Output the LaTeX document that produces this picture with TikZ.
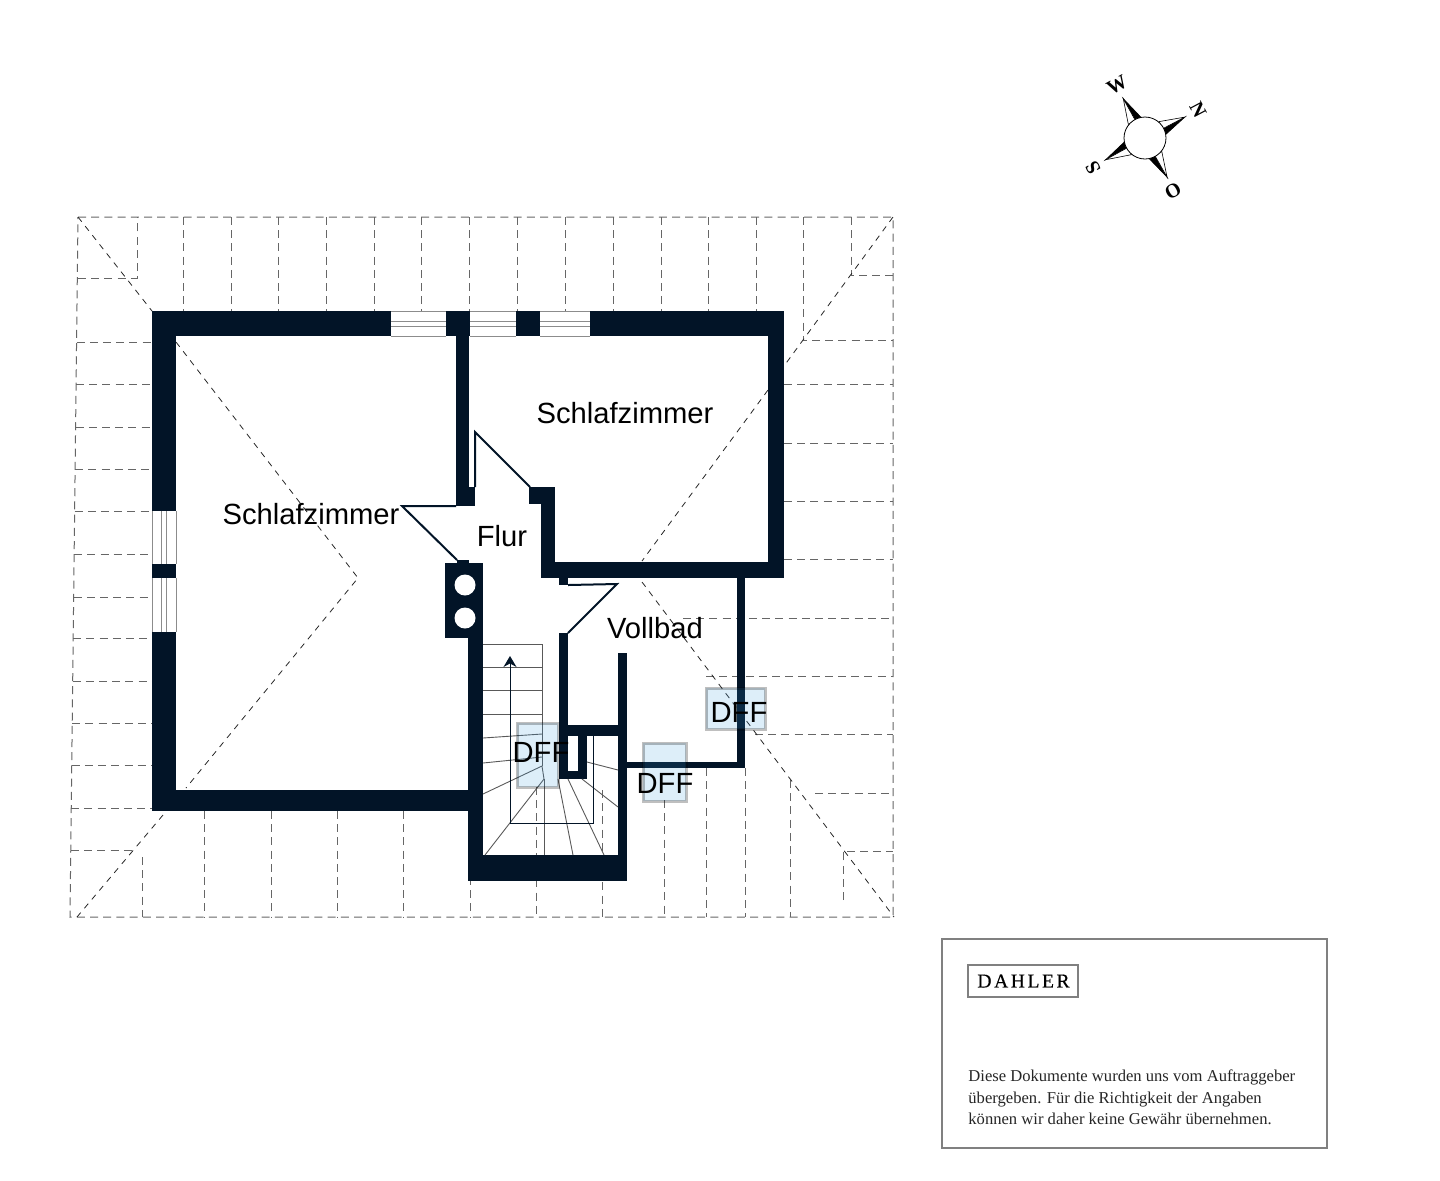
\documentclass[tikz,border=0pt]{standalone}
\usepackage{fontspec}
\setmainfont{Liberation Sans}
\newfontfamily\legendfont{Liberation Serif}
\newfontfamily\logofont[LetterSpace=13,FakeBold=0.4]{Liberation Serif}
\usetikzlibrary{arrows.meta}
\definecolor{wallblue}{HTML}{021427}
\definecolor{dffblue}{HTML}{3399DD}

\begin{document}
\begin{tikzpicture}[x=0.5pt,y=-0.5pt,>={Stealth[length=5.5pt,width=6.5pt]},
  wall/.style={fill=wallblue},
  roof line/.style={draw=black!60,line width=0.5pt,dash pattern=on 4pt off 2.6pt},
  ridge line/.style={draw=black!85,line width=0.4pt,dash pattern=on 3pt off 2.8pt},
  window line/.style={draw=black!45,line width=0.5pt},
  door line/.style={draw=wallblue,line width=1pt},
  stair line/.style={draw=black!65,line width=0.45pt},
  dff box/.style={fill=dffblue,fill opacity=0.17,draw=black,draw opacity=0.25,line width=1.5pt},
  room label/.style={anchor=base,inner sep=0pt,font=\fontsize{14.6}{16}\selectfont,text=black},
  compass label/.style={inner sep=0pt,font=\legendfont\bfseries\fontsize{10}{11}\selectfont}]

  \useasboundingbox (0,0) rectangle (1440,1180);

  % roof outline
  \draw[roof line] (78,217) -- (893,217) -- (893,917) -- (70,917) -- cycle;
  \draw[roof line] (78,278) -- (137,278) -- (137,217);
  \draw[roof line] (851,217) -- (851,275) -- (893,275);
  \draw[roof line] (803,217) -- (803,340) -- (893,340);
  \draw[roof line] (71,850) -- (132,850);
  \draw[roof line] (142,857) -- (142,917);
  \draw[roof line] (843,900) -- (843,851) -- (893,851);

  \foreach \rx in {183,231,278,326,374,421,469,517,565,613,661,708,756}
    \draw[roof line] (\rx,217) -- (\rx,311);
  \foreach \ry in {342,384,427,469,511,554,597,638,681,723,765,808}
    \draw[roof line] ({78-(\ry-217)*8/700},\ry) -- (152,\ry);
  \foreach \ry in {384,443,501,559}
    \draw[roof line] (784,\ry) -- (893,\ry);
  \foreach \rx/\ry in {683/618,706/676,755/734,815/793}
    \draw[roof line] (\rx,\ry) -- (893,\ry);
  \foreach \rx/\ry in {204/811,271/811,337/811,403/811,470/811,536/787,602/790,664/800,706/768,745/768,790/780}
    \draw[roof line] (\rx,\ry) -- (\rx,917);

  % ridges
  \draw[ridge line] (78,217) -- (152,311);
  \draw[ridge line] (176,342) -- (358,578) -- (186,788);
  \draw[ridge line] (163,815) -- (77,917);
  \draw[ridge line] (893,217) -- (784,366);
  \draw[ridge line] (768,390) -- (642,561);
  \draw[ridge line] (642,582) -- (894,917);

  % walls
  \foreach \xa/\ya/\xb/\yb in {152/311/391/336,446/311/470/336,516/311/540/336,590/311/784/336,
      152/311/176/511,152/564/176/578,152/632/176/811,152/790/468/811,
      456/336/469/506,469/487/475/506,529/487/555/504,541/487/555/578,541/562/784/578,768/311/784/578,
      559/578/568/585,559/633/568/779,568/725/618/736,578/736/587/779,559/771/587/779,
      618/653/627/881,627/762/745/768,737/578/745/768,
      468/638/483/881,468/855/627/881,445/563/483/638,457/560/469/564}
    \fill[wall] (\xa,\ya) rectangle (\xb,\yb);
  \fill[white] (465,585) circle (10.5);
  \fill[white] (465,618) circle (10.5);

  % windows
  \foreach \xa/\xb in {391/446,470/516,540/590}
    \foreach \ry in {311,321,326,336}
      \draw[window line] (\xa,\ry) -- (\xb,\ry);
  \foreach \ya/\yb in {511/564,578/632}
    \foreach \rx in {152,161,166,176}
      \draw[window line] (\rx,\ya) -- (\rx,\yb);

  % doors
  \draw[door line] (475,487) -- (475,432) -- (530,487);
  \draw[door line] (456,506) -- (402,506) -- (457,560);
  \draw[door line] (568,585) -- (617,584) -- (568,633);

  % stairs
  \draw[stair line] (483,644) -- (542,644) -- (542,766);
  \foreach \ry in {667,690.5,714}
    \draw[stair line] (483,\ry) -- (542,\ry);
  \draw[stair line] (483,738) -- (542,734);
  \draw[stair line] (483,763) -- (542,757);
  \draw[stair line] (483,794) -- (542,766) -- (544,779);
  \draw[stair line] (544,779) -- (544,855);
  \draw[stair line] (544,779) -- (485,855);
  \draw[stair line] (558,779) -- (573,855);
  \draw[stair line] (568,779) -- (604,855);
  \draw[stair line] (582,779) -- (618,807);
  \draw[stair line] (587,762) -- (618,770);
  \coordinate (stairtop) at (510,656);
  \coordinate (stairfoot) at (510,823);
  \coordinate (stairturn) at (593,823);
  \coordinate (stairend) at (593,736);
  \draw[->,draw=wallblue,line width=0.5pt] (stairend) -- (stairturn) -- (stairfoot) -- (stairtop);

  % roof windows
  \path[dff box] (517,723) rectangle (558,787);
  \path[dff box] (643,743) rectangle (686,801);
  \path[dff box] (706,688) rectangle (765,729);

  \node[room label] (bedroomw) at (311,524) {Schlafzimmer};
  \node[room label] (bedroome) at (625,423) {Schlafzimmer};
  \node[room label] (hall) at (502,546) {Flur};
  \node[room label] (bath) at (655,638) {Vollbad};
  \node[room label] (dffa) at (541,762) {DFF};
  \node[room label] (dffb) at (665,793) {DFF};
  \node[room label] (dffc) at (739,722) {DFF};

  % compass
  \foreach \ang in {27.7,118.9,208.9,299.4} {
    \begin{scope}[shift={(1145,138)},rotate=\ang]
      \filldraw[fill=black,line width=0.3pt] (45,0) -- (20,6.5) -- (20,0) -- cycle;
      \draw[fill=white,line width=0.3pt] (45,0) -- (20,-8) -- (20,0) -- cycle;
    \end{scope}
  }
  \draw[fill=white,line width=0.4pt] (1145,138) circle (21);
  \node[compass label,rotate=-62] (cn) at (1198,110) {N};
  \node[compass label,rotate=29] (cw) at (1117,85) {W};
  \node[compass label,rotate=119] (cs) at (1093,168) {S};
  \node[compass label,rotate=209] (co) at (1173,191) {O};

  % legend
  \draw[draw=black!50,line width=0.6pt] (942,939) rectangle (1327,1148);
  \draw[draw=black!50,line width=0.6pt] (968,965) rectangle (1078,997);
  \node[inner sep=0pt,font=\logofont\fontsize{9.8}{10}\selectfont] (logo) at (1023.5,981) {DAHLER};
  \node[anchor=north west,inner sep=0pt,align=left,font=\legendfont\fontsize{8.3}{10.75}\selectfont,text=black!85] (note) at (968,1069.5)
    {Diese Dokumente wurden uns vom Auftraggeber\\übergeben. Für die Richtigkeit der Angaben\\können wir daher keine Gewähr übernehmen.};
\end{tikzpicture}
\end{document}
